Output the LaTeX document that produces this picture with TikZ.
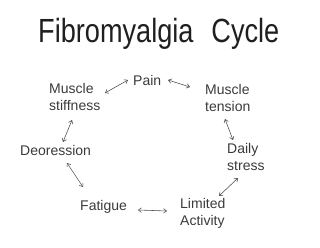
\documentclass[tikz,border=0pt]{standalone}
\usepackage{fontspec}
\setmainfont{Liberation Sans}
\usetikzlibrary{arrows.meta,calc}
\definecolor{labelgray}{HTML}{3A3A3A}
\definecolor{arrowgray}{HTML}{4A4A4A}
\tikzset{
  lbl/.style={anchor=base west, inner sep=0pt, align=left, text=labelgray,
    font=\fontsize{14bp}{16.5bp}\selectfont},
  arr/.style={draw=arrowgray, line width=0.55bp,
    {Straight Barb[length=3bp,width=4.5bp]}-{Straight Barb[length=3bp,width=4.5bp]}},
  ttl/.style={anchor=base west, inner sep=0pt, text=black!88,
    font=\fontsize{33.5bp}{36bp}\selectfont}
}
\begin{document}
\begin{tikzpicture}[x=1bp,y=-1bp]
\useasboundingbox (0,0) rectangle (320,248);
\node[ttl] (title) at (38,42) {\scalebox{0.81}[1]{Fibromyalgia\hspace{22.2bp}Cycle}};
\node[lbl] (pain) at (133,85) {Pain};
\node[lbl] (stiff) at (49,110) {Muscle\\stiffness};
\node[lbl] (tension) at (205,111) {Muscle\\tension};
\node[lbl] (daily) at (227,170) {Daily\\stress};
\node[lbl] (limited) at (180,225) {Limited\\Activity};
\node[lbl] (fatigue) at (80,210) {Fatigue};
\node[lbl] (depr) at (20,155) {Deoression};
\draw[arr] ($(stiff.base west)+(56,-17)$) -- ($(pain.base west)+(-5,-5)$);
\draw[arr] ($(pain.base west)+(35,-5)$) -- ($(tension.base west)+(-15,-24)$);
\draw[arr] ($(tension.base west)+(20,8)$) -- ($(daily.base west)+(6,-30)$);
\draw[arr] ($(daily.base west)+(11,8)$) -- ($(limited.base west)+(39,-29)$);
\draw[arr] ($(limited.base west)+(-13,-14)$) -- ($(fatigue.base west)+(58,0)$);
\draw[arr] ($(fatigue.base west)+(3,-23)$) -- ($(depr.base west)+(47,8)$);
\draw[arr] ($(depr.base west)+(43,-13)$) -- ($(stiff.base west)+(23,10)$);
\end{tikzpicture}
\end{document}
